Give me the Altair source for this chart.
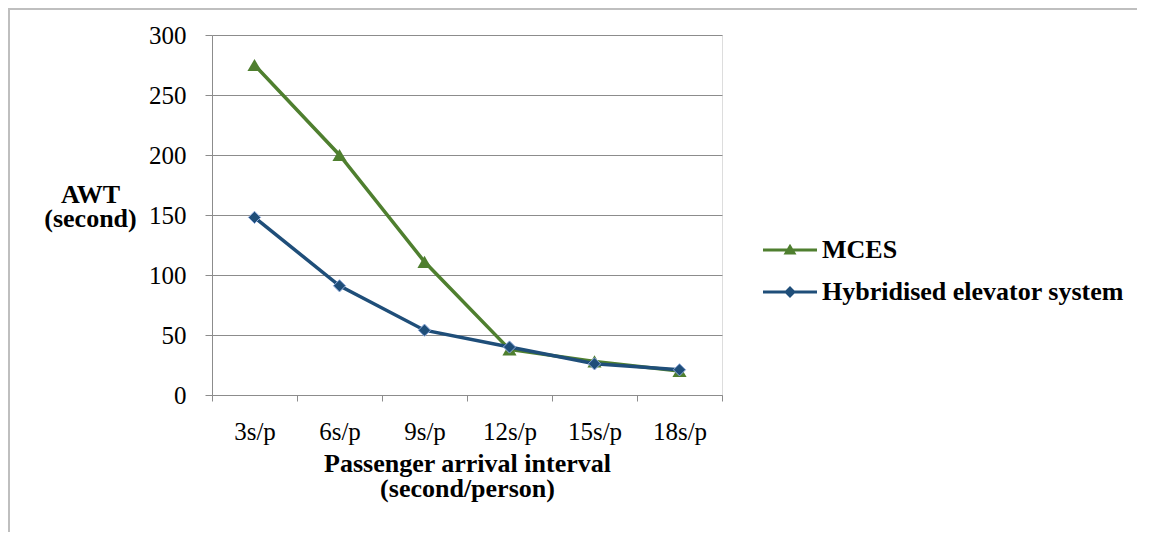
import altair as alt
import pandas as pd

categories = ["3s/p", "6s/p", "9s/p", "12s/p", "15s/p", "18s/p"]
mces = [275, 200, 111, 38, 28, 20]
hybrid = [148, 91, 54, 40, 26, 21]
series_names = ["MCES", "Hybridised elevator system"]
y_ticks = [0, 50, 100, 150, 200, 250, 300]

rows = []
for s, vals in zip(series_names, [mces, hybrid]):
    for c, v in zip(categories, vals):
        rows.append({"interval": c, "awt": v, "series": s})
df = pd.DataFrame(rows)

GREEN = "#4F7F2F"
BLUE = "#1F4E79"
GRAY = "#8C8C8C"
FONT = "Liberation Serif"
FS = 25
TFS = 26

# legend symbols (unit box -1..1): a short line with the series marker on it
tri_path = "M-1,-0.055H1V0.055H-1Z M0,-0.23L0.24,0.17L-0.24,0.17Z"
dia_path = "M-1,-0.055H1V0.055H-1Z M0,-0.22L0.22,0L0,0.22L-0.22,0Z"

x_enc = alt.X(
    "interval:N",
    sort=categories,
    scale=alt.Scale(type="band", paddingInner=0, paddingOuter=0),
    axis=alt.Axis(
        title=["Passenger arrival interval", "(second/person)"],
        titleFont=FONT, titleFontSize=TFS, titleFontWeight="bold", titleColor="black",
        titleAlign="center", titleBaseline="top", titleX=255, titleY=55, titleLineHeight=25,
        labelFont=FONT, labelFontSize=FS, labelColor="black", labelAngle=0,
        labelPadding=18, labelBaseline="top",
        tickBand="extent", tickSize=6, tickColor=GRAY, domainColor=GRAY,
        grid=False,
    ),
)
y_enc = alt.Y(
    "awt:Q",
    scale=alt.Scale(domain=[0, 300], nice=False),
    axis=alt.Axis(
        values=y_ticks,
        title=["AWT", "(second)"],
        titleFont=FONT, titleFontSize=TFS, titleFontWeight="bold", titleColor="black",
        titleAngle=0, titleAlign="center", titleBaseline="top",
        titleX=-122, titleY=146, titleLineHeight=24,
        labelFont=FONT, labelFontSize=FS, labelColor="black", labelPadding=19,
        tickSize=7, tickColor=GRAY, domainColor=GRAY,
        grid=True, gridColor=GRAY,
    ),
)
color_scale = alt.Scale(domain=series_names, range=[GREEN, BLUE])
shape_scale = alt.Scale(domain=series_names, range=[tri_path, dia_path])

legend = alt.Legend(
    orient="none", legendX=551, legendY=188, title=None, padding=0,
    labelFont=FONT, labelFontSize=TFS, labelFontWeight="bold", labelColor="black",
    labelOffset=5, labelLimit=600, symbolSize=54 * 54, symbolStrokeWidth=0,
    symbolOpacity=1,
)

base = alt.Chart(df)

border = alt.Chart(alt.Data(values=[{}])).mark_rect(
    fillOpacity=0, stroke="#BFBFBF", strokeWidth=2
).encode(
    x=alt.value(-203), x2=alt.value(1200), y=alt.value(-26), y2=alt.value(800)
)

layers = [border]
for s, col, shape, size in [
    ("MCES", GREEN, "triangle-up", 200),
    ("Hybridised elevator system", BLUE, "diamond", 150),
]:
    sub = base.transform_filter(alt.datum.series == s)
    line = sub.mark_line(strokeWidth=3.5, color=col).encode(x=x_enc, y=y_enc)
    pt = sub.mark_point(
        shape=shape, size=size, filled=True, opacity=1, fill=col,
        stroke="#8EA9DB" if shape == "diamond" else col,
        strokeWidth=1 if shape == "diamond" else 0,
    ).encode(x=x_enc, y=y_enc)
    layers += [line, pt]

# legend-only layer: its plot marks have size 0, it only carries the legend
legend_layer = base.mark_point(
    filled=True, opacity=1, strokeWidth=0, size=0
).encode(
    x=x_enc, y=y_enc,
    fill=alt.Fill("series:N", scale=color_scale, legend=legend),
    shape=alt.Shape("series:N", scale=shape_scale, legend=legend),
)
layers.append(legend_layer)

chart = alt.layer(*layers).properties(
    width=510, height=360,
    autosize=alt.AutoSizeParams(type="none"),
    padding={"left": 204, "top": 27, "right": 415, "bottom": 137},
).configure_view(stroke=None).configure(background="white")

chart.save("out.html", embed_options={"renderer": "svg", "actions": False})
